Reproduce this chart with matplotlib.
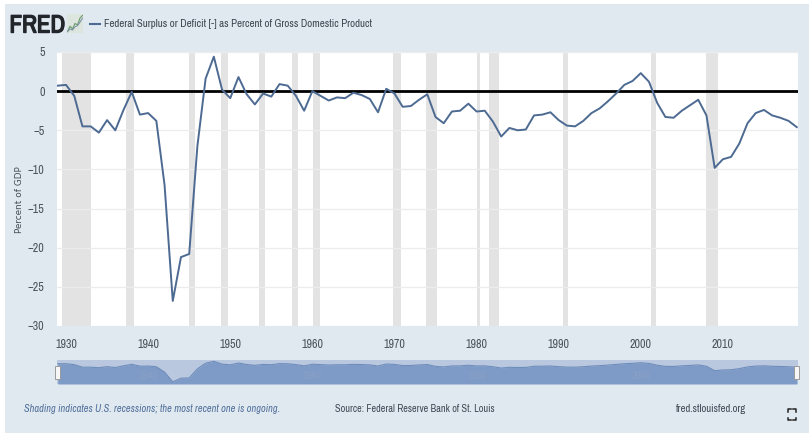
import matplotlib
matplotlib.use("Agg")
import matplotlib.pyplot as plt
import matplotlib.patheffects as pe
from matplotlib.patches import Rectangle
from matplotlib.lines import Line2D

W, H = 809, 438

years = list(range(1929, 2020))
values = [0.7, 0.8, -0.6, -4.5, -4.5, -5.3, -3.7, -5.0, -2.4, -0.1,
          -3.0, -2.8, -3.8, -12.0, -26.8, -21.2, -20.8, -7.0, 1.6, 4.4,
          0.2, -0.9, 1.8, -0.4, -1.7, -0.3, -0.7, 0.9, 0.7, -0.6,
          -2.5, 0.0, -0.6, -1.2, -0.8, -0.9, -0.2, -0.5, -1.0, -2.7,
          0.3, -0.3, -2.0, -1.9, -1.1, -0.4, -3.3, -4.1, -2.6, -2.5,
          -1.6, -2.6, -2.5, -3.9, -5.8, -4.7, -5.0, -4.9, -3.1, -3.0,
          -2.7, -3.7, -4.4, -4.5, -3.8, -2.8, -2.2, -1.3, -0.3, 0.8,
          1.3, 2.3, 1.2, -1.5, -3.3, -3.4, -2.5, -1.8, -1.1, -3.1,
          -9.8, -8.7, -8.4, -6.7, -4.1, -2.8, -2.4, -3.1, -3.4, -3.8, -4.6]
recessions = [(1929.5, 1933.05), (1937.27, 1938.28), (1944.98, 1945.67), (1948.84, 1949.7),
              (1953.47, 1954.24), (1957.56, 1958.22), (1960.12, 1960.97), (1969.87, 1970.77),
              (1973.8, 1975.15), (1980.0, 1980.42), (1981.5, 1982.75), (1990.5, 1991.15),
              (2001.25, 2001.85), (2007.95, 2009.4)]
y_ticks = [5, 0, -5, -10, -15, -20, -25, -30]
x_ticks = [1930, 1940, 1950, 1960, 1970, 1980, 1990, 2000, 2010]
nav_ticks = [1940, 1960, 1980, 2000]
title = "Federal Surplus or Deficit [-] as Percent of Gross Domestic Product"
ylabel = "Percent of GDP"

PANEL = "#e1e9f0"
LINE = "#4d6a92"
TXT = "#3f4a55"
NARROW = ["Archivo Narrow", "Liberation Sans", "DejaVu Sans"]


def fx(x):
    return x / W


def fy(y):
    return 1 - y / H


def axes_px(x0, y0, x1, y1):
    return fig.add_axes([fx(x0), fy(y1), (x1 - x0) / W, (y1 - y0) / H])


fig = plt.figure(figsize=(W / 100, H / 100), dpi=100, facecolor="white")
fig.patches.append(Rectangle((fx(5), fy(433)), 1, (433 - 4) / H,
                             transform=fig.transFigure, facecolor=PANEL, edgecolor="none",
                             zorder=-5))

# main plot
ax = axes_px(57, 52, 798, 326)
ax.set_xlim(1928.9, 2019.15)
ax.set_ylim(-30, 5)
ax.set_facecolor("white")
for a, b in recessions:
    ax.axvspan(a, b, color="#e3e3e3", lw=0, zorder=1)
for t in y_ticks:
    ax.axhline(t, color="#ececec", lw=0.9, zorder=1.5)
ax.plot(years, values, color=LINE, lw=1.4, zorder=3)
ax.axhline(0, color="black", lw=2, zorder=2.5)
for s in ax.spines.values():
    s.set_visible(False)
ax.set_yticks(y_ticks)
ax.set_xticks(x_ticks)
ax.tick_params(length=0, labelcolor="#4a525b")
ax.tick_params(axis="y", pad=9)
ax.tick_params(axis="x", pad=9)
for lab in ax.get_yticklabels() + ax.get_xticklabels():
    lab.set_family(NARROW)
    lab.set_fontsize(8.6)
fig.text(fx(19), fy(200), ylabel, rotation=90, ha="center", va="center",
         fontsize=6.4, color="#444c55", family="DejaVu Sans")

# navigator
nav = axes_px(57, 360, 798, 384)
nav.set_xlim(1928.9, 2019.15)
nav.set_ylim(-30, 6.4)
nav.set_facecolor("#b9c8df")
nav.fill_between(years, values, -30, color="#7e9bc8", lw=0)
nav.plot(years, values, color="#6f8dbb", lw=0.8)
for s in nav.spines.values():
    s.set_visible(False)
nav.set_xticks([])
nav.set_yticks([])
for t in nav_ticks:
    nav.text(t, -18, str(t), ha="center", va="center", fontsize=7.5,
             color="#8a9fc4", family=NARROW)
for px in (57.5, 796.5):
    fig.patches.append(Rectangle((fx(px - 2.5), fy(379)), 5 / W, 13 / H,
                                 transform=fig.transFigure, facecolor="#f6f6f6",
                                 edgecolor="#9a9a9a", lw=0.7, zorder=5))

# header
fig.text(fx(9.5), fy(25), "FRED", fontsize=18, color="#22262b", family=NARROW,
         ha="left", va="center",
         path_effects=[pe.withStroke(linewidth=1.0, foreground="#22262b")])
logo = axes_px(67, 14, 83, 33)
logo.set_facecolor("#dde6de")
logo.set_xticks([])
logo.set_yticks([])
for s in logo.spines.values():
    s.set_visible(False)
logo.plot([0, 1, 2, 3, 4, 5, 6], [0, 2, 1, 3, 2.5, 5, 6], color="#6a9a6a", lw=0.8)
logo.plot([0, 1, 2, 3, 4, 5, 6], [0, 1, 0.6, 1.8, 2.2, 3.5, 5], color="#7d93a8", lw=0.8)
logo.set_xlim(-0.2, 6.2)
logo.set_ylim(-0.5, 6.5)
fig.add_artist(Line2D([fx(90), fx(100)], [fy(24), fy(24)], color=LINE, lw=1.5))
fig.text(fx(103.5), fy(24), title, fontsize=7.85, color="#3c4650", family=NARROW,
         ha="left", va="center")

# footer
fig.text(fx(24), fy(409), "Shading indicates U.S. recessions; the most recent one is ongoing.",
         fontsize=7.45, style="italic", color="#4f6f9a", family=NARROW, ha="left", va="center")
fig.text(fx(335), fy(409), "Source: Federal Reserve Bank of St. Louis",
         fontsize=7.35, color=TXT, family=NARROW, ha="left", va="center")
fig.text(fx(676), fy(409), "fred.stlouisfed.org",
         fontsize=7.7, color=TXT, family=NARROW, ha="left", va="center")

# fullscreen icon corners
cx0, cx1, cy0, cy1, d = 788, 795.5, 409, 420, 2.5
for x, y, sx, sy in [(cx0, cy0, 1, 1), (cx1, cy0, -1, 1), (cx0, cy1, 1, -1), (cx1, cy1, -1, -1)]:
    fig.add_artist(Line2D([fx(x + sx * d), fx(x), fx(x)], [fy(y), fy(y), fy(y + sy * d)],
                          color="#222222", lw=1.1))

fig.savefig("out.png", dpi=100, facecolor="white")
